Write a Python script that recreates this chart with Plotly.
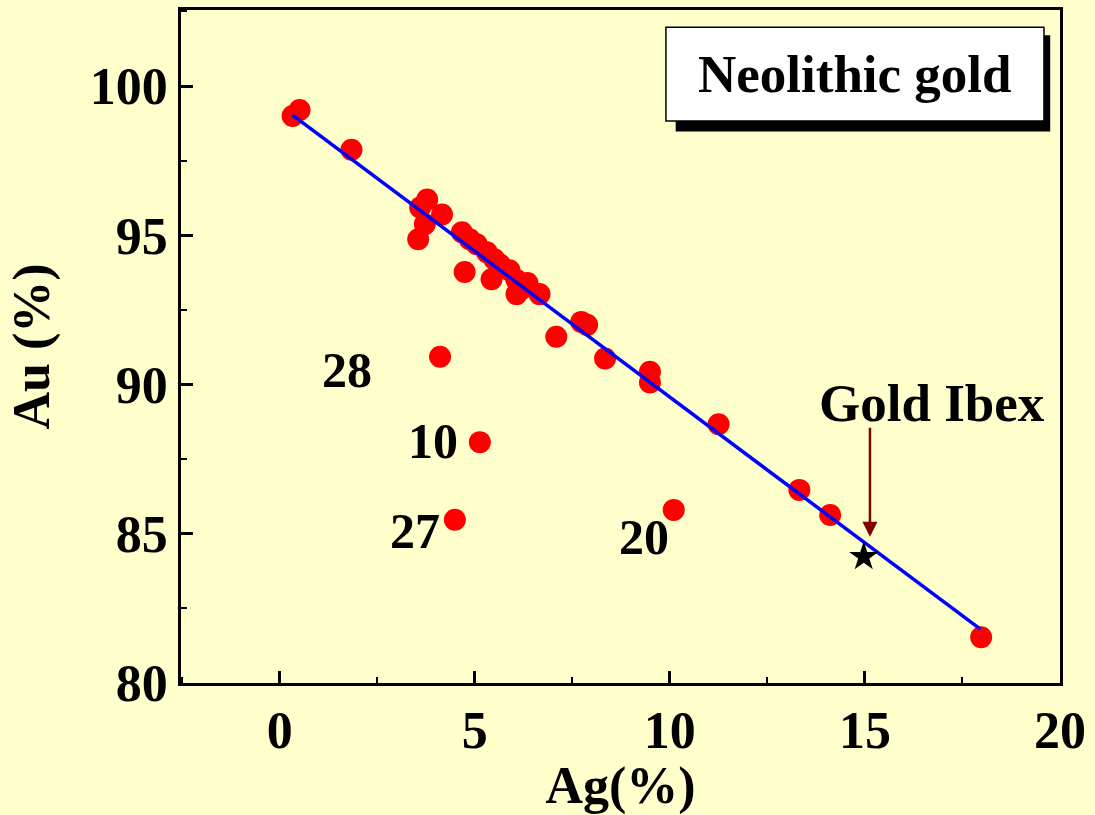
import numpy as np
import plotly.graph_objects as go

# Ag / Au composition of Neolithic gold artefacts (wt %)
ag = [0.33, 0.51, 1.84, 3.60, 3.78, 4.16, 3.72, 3.55, 4.67, 4.87, 5.05, 5.31,
      4.74, 5.43, 5.64, 5.89, 6.07, 6.20, 6.07, 6.66, 5.50, 6.35, 7.09, 7.73,
      7.88, 8.34, 9.49, 9.49, 11.25, 13.32, 14.11, 17.98,
      4.11, 5.13, 4.49, 10.10]
au = [99.00, 99.20, 97.87, 95.93, 96.20, 95.70, 95.37, 94.87, 95.10, 94.87, 94.70, 94.43,
      93.77, 93.53, 94.03, 93.83, 93.50, 93.20, 93.03, 93.03, 94.20, 93.40, 91.60, 92.10,
      92.00, 90.87, 90.43, 90.07, 88.67, 86.47, 85.63, 81.53,
      90.93, 88.07, 85.47, 85.80]

# Outlying samples and their catalogue numbers
outlier_ids = ["28", "10", "27", "20"]
outlier_label_ag = [1.73, 3.93, 3.47, 9.34]
outlier_label_au = [90.5, 88.1, 85.1, 84.9]

# Gold Ibex
ibex_ag = [14.97]
ibex_au = [84.23]

# Linear trend Au = a + b * Ag
fit_intercept = 99.35
fit_slope = -0.977
fit_ag = np.array([0.33, 17.96])
fit_au = fit_intercept + fit_slope * fit_ag

BG = "#FFFFCC"
FONT = "Liberation Serif"

fig = go.Figure()

fig.add_trace(go.Scatter(
    x=ag, y=au, mode="markers",
    marker=dict(color="#FF0000", size=22, line=dict(width=0)),
    hoverinfo="x+y", showlegend=False,
))

fig.add_trace(go.Scatter(
    x=fit_ag, y=fit_au, mode="lines",
    line=dict(color="#0000FF", width=3.5),
    showlegend=False,
))

fig.add_trace(go.Scatter(
    x=ibex_ag, y=ibex_au, mode="markers",
    marker=dict(symbol="star", color="#000000", size=22, line=dict(width=0)),
    showlegend=False,
))

for lbl, x, y in zip(outlier_ids, outlier_label_ag, outlier_label_au):
    fig.add_annotation(x=x, y=y, text=f"<b>{lbl}</b>", showarrow=False,
                       font=dict(family=FONT, size=50, color="black"),
                       xanchor="center", yanchor="middle")

# Gold Ibex label and arrow
fig.add_annotation(x=16.73, y=89.38, text="<b>Gold Ibex</b>", showarrow=False,
                   font=dict(family=FONT, size=53, color="black"),
                   xanchor="center", yanchor="middle")
fig.add_annotation(x=15.13, y=84.9, ax=15.13, ay=88.6,
                   xref="x", yref="y", axref="x", ayref="y",
                   text="", showarrow=True, arrowhead=2, arrowsize=1.2,
                   arrowwidth=2.5, arrowcolor="#800000")

# Title box with drop shadow
fig.add_shape(type="rect", xref="x", yref="y", x0=10.15, x1=19.75, y0=98.48, y1=101.7,
              fillcolor="black", line=dict(width=0), layer="above")
fig.add_shape(type="rect", xref="x", yref="y", x0=9.90, x1=19.59, y0=98.83, y1=101.97,
              fillcolor="white", line=dict(color="black", width=1.5), layer="above")
fig.add_annotation(x=14.75, y=100.4, text="<b>Neolithic gold</b>", showarrow=False,
                   font=dict(family=FONT, size=53, color="black"),
                   xanchor="center", yanchor="middle")

axis_common = dict(
    showgrid=False, zeroline=False, showline=True, linecolor="black", linewidth=2.5,
    mirror=True, ticks="inside", ticklen=12, tickwidth=2.5, tickcolor="black",
    tickfont=dict(family=FONT, size=52, color="black"),
)

fig.update_xaxes(
    range=[-2.53, 20.001], tickvals=[0, 5, 10, 15, 20],
    ticktext=["<b>0</b>", "<b>5</b>", "<b>10</b>", "<b>15</b>", "<b>20</b>"],
    minor=dict(ticks="inside", ticklen=6, tickwidth=2, tickcolor="black", dtick=2.5, tick0=0),
    title=dict(text="<b>Ag(%)</b>", font=dict(family=FONT, size=52, color="black"), standoff=6),
    **axis_common,
)
fig.update_yaxes(
    range=[80, 102.55], tickvals=[80, 85, 90, 95, 100],
    ticktext=["<b>80</b>", "<b>85</b>", "<b>90</b>", "<b>95</b>", "<b>100</b>"],
    minor=dict(ticks="inside", ticklen=6, tickwidth=2, tickcolor="black", dtick=2.5, tick0=80),
    title=dict(text="<b>Au (%)</b>", font=dict(family=FONT, size=52, color="black"), standoff=24),
    **axis_common,
)

fig.update_layout(
    width=1095, height=815,
    margin=dict(l=181, r=35, t=7, b=132),
    paper_bgcolor=BG, plot_bgcolor=BG,
    showlegend=False,
)

fig.write_html("out.html")
